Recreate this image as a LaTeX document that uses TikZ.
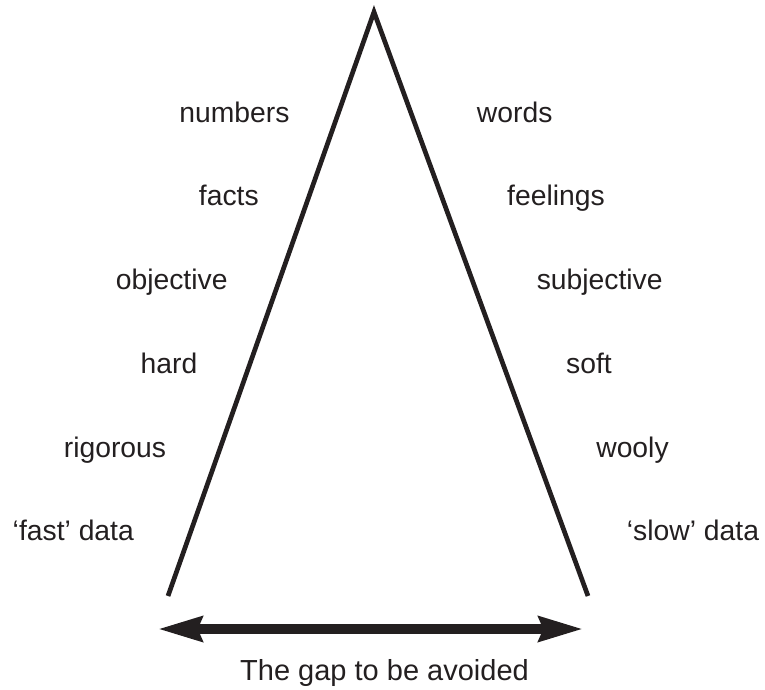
\documentclass[tikz,border=0pt]{standalone}
\usepackage{fontspec}
\setmainfont{Liberation Sans}
\usetikzlibrary{arrows.meta}
\definecolor{ink}{RGB}{35,31,32}
\begin{document}
\begin{tikzpicture}[x=1pt,y=-1pt,
  lbl/.style={font=\fontsize{28.3}{30}\selectfont, inner sep=0pt, anchor=base, text=ink},
  side/.style={line width=4.7pt, line join=miter, color=ink},
  gap/.style={line width=10pt, color=ink,
    {Stealth[length=44pt,width=24pt,inset=4pt]}-{Stealth[length=44pt,width=24pt,inset=4pt]}}]
\useasboundingbox (0,0) rectangle (765,690);
\coordinate (bl) at (168,596);
\coordinate (apex) at (374,12);
\coordinate (br) at (588,596);
\draw[side] (bl) -- (apex) -- (br);
\coordinate (al) at (157.5,629);
\coordinate (ar) at (583.5,629);
\draw[gap] (al) -- (ar);
\node[lbl, font=\fontsize{29}{31}\selectfont] (gaptext) at (384.5,680) {The gap to be avoided};
\node[lbl] (l1) at (234.5,122) {numbers};
\node[lbl] (l2) at (228.8,205) {facts};
\node[lbl] (l3) at (171.7,289) {objective};
\node[lbl] (l4) at (169,373) {hard};
\node[lbl] (l5) at (115,457) {rigorous};
\node[lbl] (l6) at (73.3,540) {‘fast’ data};
\node[lbl] (r1) at (514.7,122) {words};
\node[lbl] (r2) at (556,205) {feelings};
\node[lbl] (r3) at (599.7,289) {subjective};
\node[lbl] (r4) at (589,373) {soft};
\node[lbl] (r5) at (632.5,457) {wooly};
\node[lbl] (r6) at (693,540) {‘slow’ data};
\end{tikzpicture}
\end{document}
